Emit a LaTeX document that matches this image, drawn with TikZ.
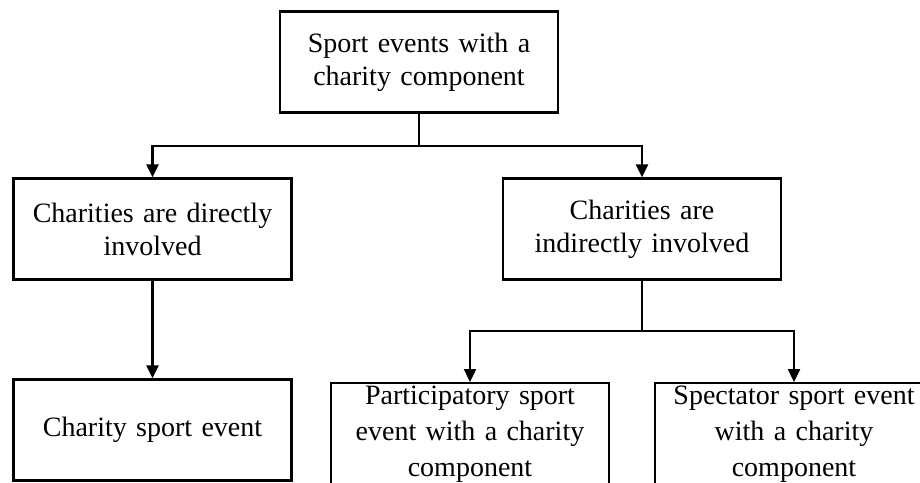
\documentclass[tikz,border=0pt]{standalone}
\usepackage{fontspec}
\setmainfont{Liberation Serif}
\usetikzlibrary{arrows.meta,positioning}

\begin{document}
\begin{tikzpicture}[x=1pt, y=-1pt,
  box/.style={draw, rectangle, line width=2.2pt, minimum width=278pt, minimum height=101pt,
    text width=268pt, align=center, inner sep=3pt, font=\fontsize{28}{33}\selectfont},
  arr/.style={line width=2.4pt, -{Triangle[width=12pt,length=13pt]}},
  lnk/.style={line width=2.4pt}]
\useasboundingbox (0,0) rectangle (920,482);
\clip (0,0) rectangle (920,482);
\fill[white] (0,0) rectangle (920,482);
\node[box] (top) at (419, 62) {Sport events with a\\charity component};
\node[box] (dir) at (152.5, 229) {Charities are directly\\involved};
\node[box] (ind) at (642, 229) {Charities are\\indirectly involved};
\node[box] (cse) at (152.5, 430) {Charity sport event};
\node[box, anchor=north, font=\fontsize{28}{36}\selectfont] (part) at (470, 382) {Participatory sport\\event with a charity\\component};
\node[box, anchor=north, font=\fontsize{28}{36}\selectfont] (spec) at (794, 382) {Spectator sport event\\with a charity\\component};
\coordinate (j1) at (419, 146);
\coordinate (j2) at (642, 331);
\draw[lnk] (top.south) -- (j1);
\draw[arr] (j1) -| (dir.north);
\draw[arr] (j1) -| (ind.north);
\draw[arr] (dir.south) -- (cse.north);
\draw[lnk] (ind.south) -- (j2);
\draw[arr] (j2) -| (part.north);
\draw[arr] (j2) -| (spec.north);
\end{tikzpicture}
\end{document}
